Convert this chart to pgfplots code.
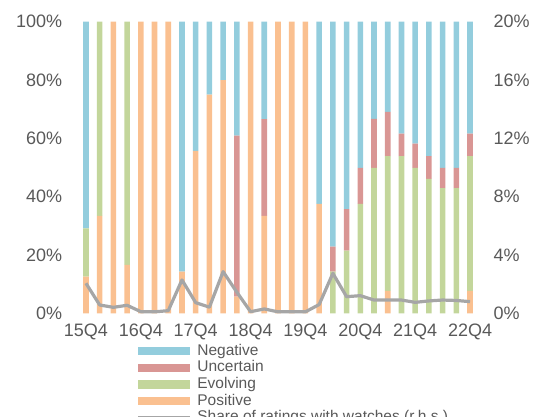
\documentclass[border=0pt]{standalone}
\usepackage{pgfplots}
\pgfplotsset{compat=1.18}
\usepackage{pgfplotstable}
\usepackage{fontspec}
\setmainfont{Liberation Sans}
\definecolor{negc}{HTML}{93CDDD}
\definecolor{uncc}{HTML}{D99694}
\definecolor{evoc}{HTML}{C3D69B}
\definecolor{posc}{HTML}{FAC090}
\definecolor{linec}{HTML}{A6A6A6}
\definecolor{txtc}{HTML}{595959}
\pgfplotsset{barleg/.style={legend image code/.code={\fill[##1,draw=none] (0pt,-4.2pt) rectangle (52pt,4.2pt);}}}

\pgfplotstableread{
i pos evo unc neg
0 12.6 16.5 0 70.9
1 33.4 66.6 0 0
2 100 0 0 0
3 16.6 83.4 0 0
4 100 0 0 0
5 100 0 0 0
6 100 0 0 0
7 14.3 0 0 85.7
8 55.7 0 0 44.3
9 75.0 0 0 25.0
10 80.0 0 0 20.0
11 5.7 0 55.2 39.1
12 100 0 0 0
13 33.4 0 33.2 33.4
14 100 0 0 0
15 100 0 0 0
16 100 0 0 0
17 37.5 0 0 62.5
18 0 14.3 8.6 77.1
19 0 21.5 14.2 64.3
20 0 37.5 12.4 50.1
21 0 49.9 16.8 33.3
22 7.7 46.2 15.2 30.9
23 0 53.9 7.7 38.4
24 0 49.9 8.3 41.8
25 0 46.1 7.8 46.1
26 0 42.9 7.0 50.1
27 0 42.9 7.0 50.1
28 7.7 46.2 7.7 38.4
}\ratings

\pgfplotstableread{
i share
0 2.06
1 0.57
2 0.41
3 0.55
4 0.11
5 0.10
6 0.18
7 2.29
8 0.73
9 0.42
10 2.86
11 1.45
12 0.11
13 0.30
14 0.10
15 0.10
16 0.10
17 0.60
18 2.74
19 1.14
20 1.21
21 0.91
22 0.91
23 0.91
24 0.75
25 0.85
26 0.91
27 0.88
28 0.80
}\watch

\begin{document}
\begin{tikzpicture}
\useasboundingbox (0,0) rectangle (536pt,416pt);
\begin{axis}[
  at={(79.1pt,102.7pt)}, anchor=south west,
  scale only axis, width=397.8pt, height=291.6pt,
  ybar stacked, bar width=5.6pt,
  xmin=-0.5, xmax=28.5, ymin=0, ymax=100,
  xtick={0,4,...,28},
  xticklabels={15Q4,16Q4,17Q4,18Q4,19Q4,20Q4,21Q4,22Q4},
  ytick={0,20,...,100},
  yticklabel={\pgfmathprintnumber{\tick}\%},
  axis x line*=bottom, axis y line*=left,
  axis line style={draw=none},
  major tick length=0pt, tick style={draw=none},
  /pgf/number format/assume math mode=true,
  ticklabel style={font=\fontsize{18}{20}\selectfont, text=txtc, inner sep=0pt},
  xticklabel style={yshift=-10pt},
  yticklabel style={xshift=-16.8pt},
  reverse legend,
  legend style={at={(0.143,-0.1036)}, anchor=north west, draw=none, fill=none,
    inner sep=0pt, font=\fontsize{15.5}{16.6}\selectfont, text=txtc,
    cells={anchor=west}, row sep=1.6pt,
    nodes={inner sep=0pt, text height=11.5pt, text depth=3.5pt},
    /tikz/every odd column/.append style={column sep=6pt}},
]
\addlegendimage{legend image code/.code={\draw[linec, line width=3.2pt] (0pt,0pt) -- (52pt,0pt);}}
\addplot[fill=posc, draw=none, barleg] table[x=i,y=pos]{\ratings};
\addplot[fill=evoc, draw=none, barleg] table[x=i,y=evo]{\ratings};
\addplot[fill=uncc, draw=none, barleg] table[x=i,y=unc]{\ratings};
\addplot[fill=negc, draw=none, barleg] table[x=i,y=neg]{\ratings};
\legend{Share of ratings with watches (r.h.s.), Positive, Evolving, Uncertain, Negative}
\end{axis}
\begin{axis}[
  at={(79.1pt,102.7pt)}, anchor=south west,
  scale only axis, width=397.8pt, height=291.6pt,
  xmin=-0.5, xmax=28.5, ymin=0, ymax=20,
  axis x line=none, axis y line*=right, xtick=\empty,
  axis line style={draw=none},
  major tick length=0pt, tick style={draw=none},
  ytick={0,4,...,20},
  yticklabel={\pgfmathprintnumber{\tick}\%},
  /pgf/number format/assume math mode=true,
  ticklabel style={font=\fontsize{18}{20}\selectfont, text=txtc, inner sep=0pt},
  yticklabel style={anchor=west, xshift=16.4pt},
  clip=false,
]
\addplot[linec, line width=3.2pt, line join=round, mark=none] table[x=i,y=share]{\watch};
\end{axis}
\end{tikzpicture}
\end{document}
